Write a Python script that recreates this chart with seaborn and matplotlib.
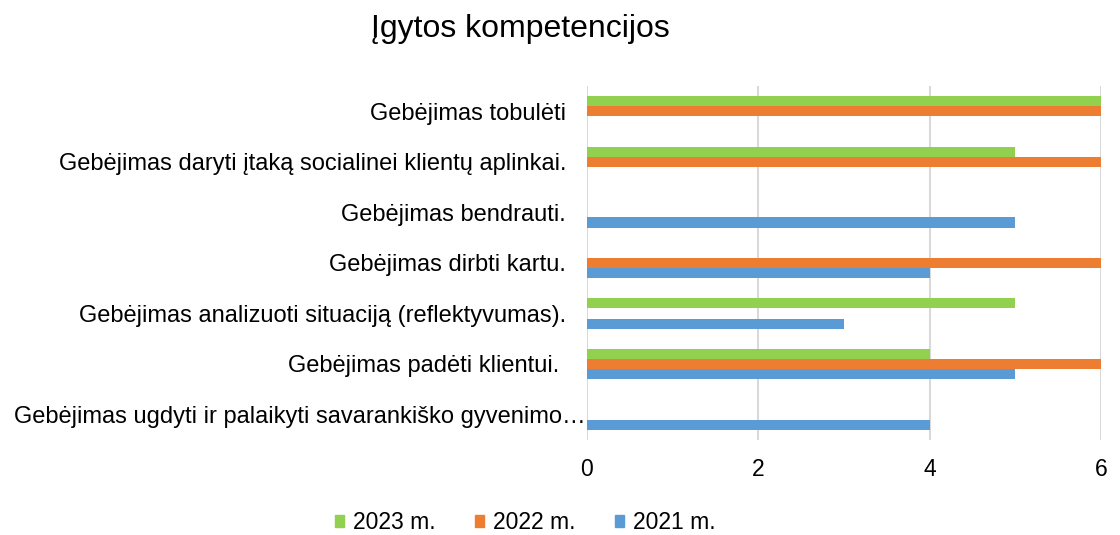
import pandas as pd
import matplotlib.pyplot as plt
import matplotlib.transforms as mtransforms
import seaborn as sns

categories = [
    'Gebėjimas tobulėti',
    'Gebėjimas daryti įtaką socialinei klientų aplinkai.',
    'Gebėjimas bendrauti.',
    'Gebėjimas dirbti kartu.',
    'Gebėjimas analizuoti situaciją (reflektyvumas).',
    'Gebėjimas padėti klientui. ',
    'Gebėjimas ugdyti ir palaikyti savarankiško gyvenimo…',
]
series = ['2023 m.', '2022 m.', '2021 m.']
values_2023 = [6, 5, 0, 0, 5, 4, 0]
values_2022 = [6, 6, 0, 6, 0, 6, 0]
values_2021 = [0, 0, 5, 4, 3, 5, 4]
colors = ['#92D050', '#ED7D31', '#5B9BD5']

df = pd.DataFrame({
    'kategorija': categories * 3,
    'metai': [s for s in series for _ in categories],
    'reiksme': values_2023 + values_2022 + values_2021,
})

sns.set_style('white')
plt.rcParams['font.family'] = ['Liberation Sans', 'DejaVu Sans']
plt.rcParams['text.color'] = 'black'

fig = plt.figure(figsize=(11.2, 5.35), dpi=100)
ax = fig.add_axes([0.524, 0.178, 0.459, 0.661])

sns.barplot(data=df, y='kategorija', x='reiksme', hue='metai',
            hue_order=series, palette=colors, order=categories,
            orient='h', width=0.6, saturation=1, linewidth=0,
            ax=ax, legend=False)

ax.set_xlim(0, 6)
ax.set_ylim(6.5, -0.5)
ax.set_xticks([0, 2, 4, 6])
ax.xaxis.grid(True, color='#D9D9D9', linewidth=1.5)
ax.set_axisbelow(True)
for s in ax.spines.values():
    s.set_visible(False)
ax.set_xlabel('')
ax.set_ylabel('')
ax.tick_params(axis='y', length=0, pad=15, labelsize=17, labelcolor='black')
ax.tick_params(axis='x', length=0, pad=13, labelsize=16.5, labelcolor='black')

# the last, cut-off label sits closer to the axis in the original
last = ax.get_yticklabels()[-1]
last.set_transform(last.get_transform() +
                   mtransforms.ScaledTranslation(20 / 100, 0, fig.dpi_scale_trans))

fig.text(0.465, 0.946, 'Įgytos kompetencijos', ha='center', va='center', fontsize=23)

handles = [plt.Rectangle((0, 0), 1, 1, color=c) for c in colors]
fig.legend(handles, series, loc='center', bbox_to_anchor=(0.469, 0.023),
           ncol=3, frameon=False, fontsize=16.5, handlelength=0.4,
           handleheight=0.4, handletextpad=0.4, columnspacing=1.7)

fig.savefig('out.png', dpi=100)
